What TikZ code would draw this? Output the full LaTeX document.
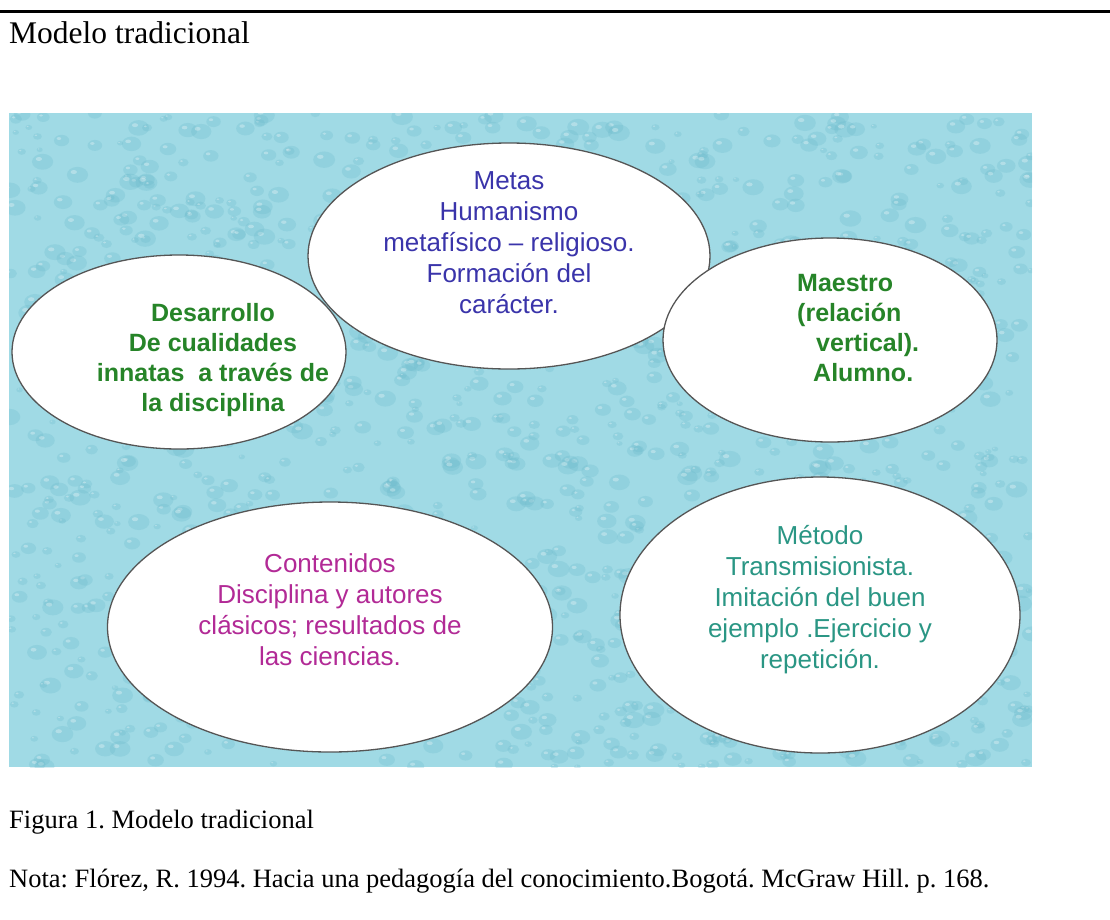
\documentclass[tikz,border=0pt]{standalone}
\usepackage{fontspec}
\setmainfont{Liberation Serif}
\setsansfont{Liberation Sans}
\usetikzlibrary{shapes.geometric}
\frenchspacing

\definecolor{water}{RGB}{160,218,229}
\definecolor{waterdark}{RGB}{104,184,202}
\definecolor{rim}{RGB}{85,85,85}
\definecolor{metablue}{RGB}{58,52,170}
\definecolor{leafgreen}{RGB}{38,132,40}
\definecolor{plum}{RGB}{178,42,150}
\definecolor{seateal}{RGB}{42,150,132}

\tikzset{
  bubble/.style={ellipse, draw=rim, fill=white, line width=1.3pt, inner sep=0pt},
  bubbletext/.style={align=center, inner sep=0pt, font={\fontsize{26}{31}\selectfont\sffamily}},
  boldtext/.style={bubbletext, font={\fontsize{25}{30}\selectfont\sffamily\bfseries}},
  drop/.style={fill=waterdark, opacity=0.25},
  shine/.style={fill=white, opacity=0.3}
}

\begin{document}
\begin{tikzpicture}[x=1pt,y=-1pt]
    \useasboundingbox (0,0) rectangle (1110,919);

    \draw[line width=3pt] (0,11) -- (1110,11);
    \node[anchor=base west, inner sep=0pt, font={\fontsize{31.5}{36}\selectfont}] (title) at (9,43) {Modelo tradicional};

    \fill[water] (9,113) rectangle (1032,767);
    \begin{scope}
    \clip (9,113) rectangle (1032,767);
    \pgfmathsetseed{17}
    \foreach \i in {1,...,1400}{
      \pgfmathsetmacro{\dx}{9+1023*rnd}
      \pgfmathsetmacro{\dy}{113+654*rnd}
      \pgfmathsetmacro{\dr}{3+8*rnd}
      \pgfmathsetmacro{\dq}{0.75*\dr}
      \fill[drop] (\dx,\dy) ellipse [x radius=\dr pt, y radius=\dq pt];
      \fill[shine] (\dx-0.35*\dr,\dy-0.35*\dq) ellipse [x radius=0.3*\dr pt, y radius=0.25*\dq pt];
    }
    \end{scope}

    \node[bubble, minimum width=402pt, minimum height=226pt] (metas) at (509,256) {};
    \node[bubble, minimum width=334pt, minimum height=194pt] (desarrollo) at (179,352) {};
    \node[bubble, minimum width=334pt, minimum height=204pt] (maestro) at (830,340) {};
    \node[bubble, minimum width=445pt, minimum height=250pt] (contenidos) at (330,627) {};
    \node[bubble, minimum width=400pt, minimum height=276pt] (metodo) at (820,615) {};

    \node[bubbletext, text=metablue] (metastxt) at (metas.center) [yshift=13pt] {Metas\\Humanismo\\metafísico -- religioso.\\Formación del\\carácter.};
    \node[boldtext, text=leafgreen] (desarrollotxt) at (213,360) {Desarrollo\\De cualidades\\innatas\ \ a través de\\la disciplina};
    \node[boldtext, text=leafgreen, align=left, anchor=west] (maestrotxt) at (797,328) {Maestro\\(relación\\\hspace*{19pt}vertical).\\\hspace*{16pt}Alumno.};
    \node[bubbletext, text=plum] (contenidostxt) at (330,610) {Contenidos\\Disciplina y autores\\clásicos; resultados de\\las ciencias.};
    \node[bubbletext, text=seateal] (metodotxt) at (820,600) {Método\\Transmisionista.\\Imitación del buen\\ejemplo .Ejercicio y\\repetición.};

    \node[anchor=base west, inner sep=0pt, font={\fontsize{26.5}{30}\selectfont}] (figura) at (9,828) {Figura 1. Modelo tradicional};
    \node[anchor=base west, inner sep=0pt, font={\fontsize{26.5}{30}\selectfont}] (nota) at (9,887) {Nota: Flórez, R. 1994. Hacia una pedagogía del conocimiento.Bogotá. McGraw Hill. p. 168.};
\end{tikzpicture}
\end{document}
